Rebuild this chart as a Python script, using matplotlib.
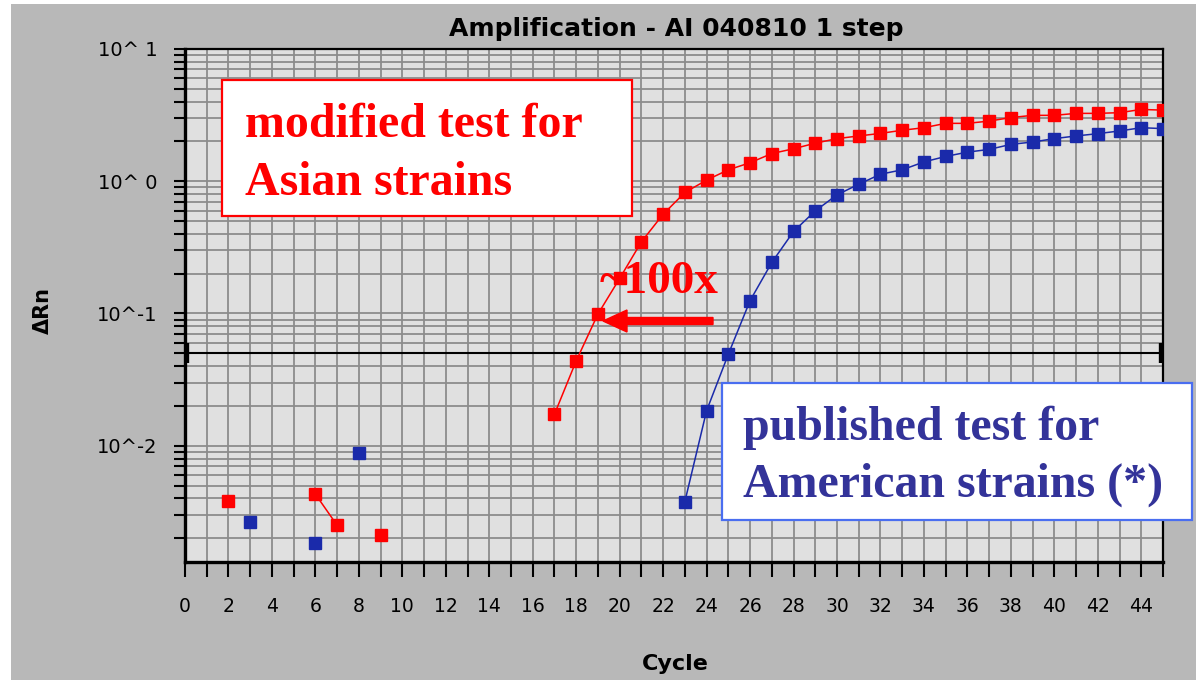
import numpy as np
import matplotlib
matplotlib.use("Agg")
import matplotlib.pyplot as plt
from matplotlib.patches import Rectangle, FancyArrow
from matplotlib.ticker import LogLocator, NullFormatter, FuncFormatter, MultipleLocator

# ---- data (nan = no value shown on the log scale)
nan = np.nan
cycles = list(range(1, 46))

modified_asian = [nan, 0.0038, nan, nan, nan, 0.0043, 0.0025, nan, 0.0021, nan,
                  nan, nan, nan, nan, nan, nan, 0.0173, 0.0438, 0.099, 0.184,
                  0.348, 0.563, 0.822, 1.02, 1.22, 1.38, 1.62, 1.76, 1.94, 2.10,
                  2.20, 2.30, 2.43, 2.54, 2.74, 2.74, 2.85, 3.03, 3.15, 3.15,
                  3.26, 3.26, 3.30, 3.49, 3.45]

published_american = [nan, nan, 0.00264, nan, nan, 0.00183, nan, 0.0088, nan, nan,
                      nan, nan, nan, nan, nan, nan, nan, nan, nan, nan,
                      nan, nan, 0.00378, 0.0184, 0.0492, 0.125, 0.243, 0.417, 0.597, 0.789,
                      0.949, 1.13, 1.22, 1.40, 1.54, 1.66, 1.74, 1.90, 1.98, 2.10,
                      2.20, 2.29, 2.40, 2.54, 2.50]

threshold = 0.05

title_text = "Amplification - AI 040810 1 step"
red_lines = ["modified test for", "Asian strains"]
blue_lines = ["published test for", "American strains (*)"]
fold_text = "~100x"

# ---- figure
W, H = 11.96, 6.80
fig = plt.figure(figsize=(W, H), dpi=100, facecolor="white")
px = fig.dpi_scale_trans  # positions below in inches = pixels / 100

def P(x, y):
    # pixel (from top-left) -> inches
    return x / 100.0, (680 - y) / 100.0

bg_gray = "#b8b8b8"
fig.patches.append(Rectangle(P(11, 680), (1196 - 11) / 100.0, (680 - 4) / 100.0,
                             transform=px, facecolor=bg_gray, edgecolor="none", zorder=-5))

ax = fig.add_axes([185 / 1196, 1 - 562 / 680, (1163 - 185) / 1196, (562 - 49) / 680])
ax.set_facecolor("#e0e0e0")
ax.set_yscale("log")
ax.set_xlim(0, 45)
ax.set_ylim(0.00132, 10)

ax.xaxis.set_major_locator(MultipleLocator(1))
ax.xaxis.set_major_formatter(FuncFormatter(lambda v, p: "%d" % v if int(round(v)) % 2 == 0 and v < 45 else ""))
ax.yaxis.set_major_locator(LogLocator(base=10))
ax.yaxis.set_minor_locator(LogLocator(base=10, subs=range(2, 10)))
ax.yaxis.set_minor_formatter(NullFormatter())
ax.yaxis.set_major_formatter(FuncFormatter(lambda v, p: "10^%2d" % int(round(np.log10(v)))))

ax.set_axisbelow(True)
ax.grid(True, which="both", color="#8c8c8c", linewidth=1.3)

ax.tick_params(axis="x", direction="out", length=11, width=1.5, pad=14, labelsize=13.5, color="black")
ax.tick_params(axis="y", which="both", direction="out", length=8, width=1.5, pad=12, labelsize=14, color="black")

for s in ["top", "right"]:
    ax.spines[s].set_linewidth(1.6)
for s in ["left", "bottom"]:
    ax.spines[s].set_linewidth(2.4)

# threshold line
ax.plot([0, 45], [threshold, threshold], color="black", lw=1.5, zorder=3)
ax.plot([0, 45], [threshold, threshold], ls="none", marker="|", ms=14.5, mew=6,
        color="black", zorder=3)

red = "#ff0000"
blue = "#1a2aaa"
ax.plot(cycles, modified_asian, color=red, lw=1.1, marker="s", ms=8.6, mec=red, mfc=red, zorder=4)
ax.plot(cycles, published_american, color=blue, lw=1.1, marker="s", ms=8.6, mec=blue, mfc=blue, zorder=4)

# labels
fig.text(*P(676, 29), title_text, transform=px, ha="center", va="center",
         fontsize=18, fontweight="bold")
fig.text(*P(675, 664), "Cycle", transform=px, ha="center", va="center",
         fontsize=16, fontweight="bold")
fig.text(*P(43, 310), "ΔRn", transform=px, ha="center", va="center",
         fontsize=15, fontweight="bold", rotation=90)

# annotation boxes
serif = ["Liberation Serif", "DejaVu Serif"]
x0, y0 = P(222, 216)
fig.patches.append(Rectangle((x0, y0), (632 - 222) / 100.0, (216 - 80) / 100.0, transform=px,
                             facecolor="white", edgecolor=red, linewidth=1.6, zorder=5))
fig.text(*P(245, 137), red_lines[0], transform=px, ha="left", va="baseline",
         fontsize=34.5, fontweight="bold", family=serif, color=red, zorder=6)
fig.text(*P(245, 195), red_lines[1], transform=px, ha="left", va="baseline",
         fontsize=34.5, fontweight="bold", family=serif, color=red, zorder=6)

x0, y0 = P(722, 520)
fig.patches.append(Rectangle((x0, y0), (1192 - 722) / 100.0, (520 - 383) / 100.0, transform=px,
                             facecolor="white", edgecolor="#4a6ef0", linewidth=1.6, zorder=5))
fig.text(*P(743, 440), blue_lines[0], transform=px, ha="left", va="baseline",
         fontsize=34.5, fontweight="bold", family=serif, color="#333399", zorder=6)
fig.text(*P(743, 497), blue_lines[1], transform=px, ha="left", va="baseline",
         fontsize=34.5, fontweight="bold", family=serif, color="#333399", zorder=6)

# ~100x arrow
fig.text(*P(600, 293), fold_text, transform=px, ha="left", va="baseline",
         fontsize=34, fontweight="bold", family=serif, color=red, zorder=6)
ax_x, ax_y = P(713, 321)
fig.patches.append(FancyArrow(ax_x, ax_y, -(713 - 603) / 100.0, 0, width=0.07,
                              head_width=0.22, head_length=0.24, length_includes_head=True,
                              transform=px, color=red, zorder=6))

fig.savefig("out.png", dpi=100, facecolor=fig.get_facecolor())
